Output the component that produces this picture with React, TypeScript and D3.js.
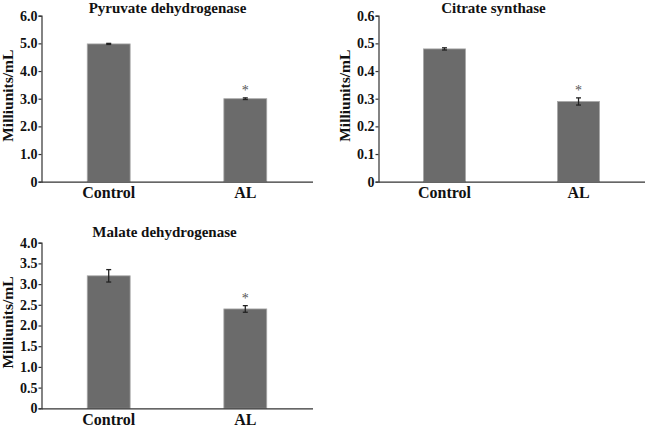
import { useEffect, useRef } from 'react'
import * as d3 from 'd3'

const categories = ['Control', 'AL']
const significant = [false, true]

const pdhMeans = [4.98, 3.0]
const pdhErrors = [0.02, 0.03]
const pdhTicks = [0, 1, 2, 3, 4, 5, 6]

const csMeans = [0.48, 0.29]
const csErrors = [0.004, 0.013]
const csTicks = [0, 0.1, 0.2, 0.3, 0.4, 0.5, 0.6]

const mdhMeans = [3.2, 2.4]
const mdhErrors = [0.15, 0.08]
const mdhTicks = [0, 0.5, 1, 1.5, 2, 2.5, 3, 3.5, 4]

const FONT = 'Liberation Serif, Times New Roman, serif'

interface Panel {
  title: string
  means: number[]
  errors: number[]
  ticks: number[]
  left: number
  top: number
  width: number
  height: number
  titleX: number
  titleY: number
}

const App = () => {
  const svgRef = useRef<SVGSVGElement>(null)

  useEffect(() => {
    if (!svgRef.current) return
    const root = d3.select(svgRef.current)
    root.selectAll('*').remove()

    const panels: Panel[] = [
      { title: 'Pyruvate dehydrogenase', means: pdhMeans, errors: pdhErrors, ticks: pdhTicks,
        left: 41.5, top: 15.7, width: 271, height: 166, titleX: 126, titleY: 12.5 },
      { title: 'Citrate synthase', means: csMeans, errors: csErrors, ticks: csTicks,
        left: 378.5, top: 15.7, width: 266, height: 166, titleX: 115, titleY: 12.5 },
      { title: 'Malate dehydrogenase', means: mdhMeans, errors: mdhErrors, ticks: mdhTicks,
        left: 41.5, top: 242.7, width: 271, height: 165.6, titleX: 123, titleY: 236.7 },
    ]

    panels.forEach(p => {
      const g = root.append('g').attr('transform', `translate(${p.left},${p.top})`)

      const x = d3.scaleBand<string>()
        .domain(categories)
        .range([0, p.width])
        .paddingInner(0.686)
        .paddingOuter(0.335)

      const y = d3.scaleLinear()
        .domain([0, d3.max(p.ticks)!])
        .range([p.height, 0])

      // bars
      g.selectAll('rect.bar')
        .data(p.means)
        .enter()
        .append('rect')
        .attr('class', 'bar')
        .attr('x', (_, i) => x(categories[i])!)
        .attr('y', d => y(d))
        .attr('width', x.bandwidth())
        .attr('height', d => p.height - y(d))
        .attr('fill', '#6b6b6b')
        .attr('stroke', '#a8a8a8')
        .attr('stroke-width', 0.8)

      // error bars
      p.means.forEach((m, i) => {
        const cx = x(categories[i])! + x.bandwidth() / 2
        const hi = y(m + p.errors[i])
        const lo = y(m - p.errors[i])
        const eb = g.append('g').attr('stroke', '#222').attr('stroke-width', 1.3)
        eb.append('line').attr('x1', cx).attr('x2', cx).attr('y1', hi).attr('y2', lo)
        eb.append('line').attr('x1', cx - 2.5).attr('x2', cx + 2.5).attr('y1', hi).attr('y2', hi)
        eb.append('line').attr('x1', cx - 2.5).attr('x2', cx + 2.5).attr('y1', lo).attr('y2', lo)

        if (significant[i]) {
          g.append('text')
            .attr('x', cx)
            .attr('y', hi - 3)
            .attr('text-anchor', 'middle')
            .attr('font-family', FONT)
            .attr('font-size', 14)
            .attr('fill', '#555')
            .text('*')
        }
      })

      // y axis
      const yAxis = g.append('g')
        .call(d3.axisLeft(y)
          .tickValues(p.ticks)
          .tickSize(3)
          .tickSizeOuter(3)
          .tickPadding(1)
          .tickFormat(d => (+d === 0 ? '0' : (+d).toFixed(1))))
      yAxis.attr('font-family', FONT).attr('font-size', 14).attr('font-weight', 'bold')
      yAxis.select('.domain').attr('stroke', '#333').attr('stroke-width', 1.2)
      yAxis.selectAll('.tick line').attr('stroke', '#333').attr('stroke-width', 1.2)
      yAxis.selectAll('.tick text').attr('fill', '#111')

      // x axis
      const xAxis = g.append('g')
        .attr('transform', `translate(0,${p.height})`)
        .call(d3.axisBottom(x).tickSize(0).tickSizeOuter(0).tickPadding(5))
      xAxis.attr('font-family', FONT).attr('font-size', 16).attr('font-weight', 'bold')
      xAxis.select('.domain').attr('stroke', '#333').attr('stroke-width', 1.2)
      xAxis.selectAll('.tick text').attr('dy', '0.71em').attr('fill', '#111')

      // y label
      g.append('text')
        .attr('transform', `translate(-29,${p.height / 2 - 3}) rotate(-90)`)
        .attr('text-anchor', 'middle')
        .attr('font-family', FONT)
        .attr('font-size', 15.5)
        .attr('font-weight', 'bold')
        .attr('fill', '#111')
        .text('Milliunits/mL')

      // title
      g.append('text')
        .attr('x', p.titleX)
        .attr('y', p.titleY - p.top)
        .attr('text-anchor', 'middle')
        .attr('font-family', FONT)
        .attr('font-size', 15)
        .attr('font-weight', 'bold')
        .attr('fill', '#111')
        .text(p.title)
    })
  }, [])

  return (
    <svg
      ref={svgRef}
      width={650}
      height={427}
      style={{ position: 'absolute', left: 0, top: 0, background: '#fff' }}
    />
  )
}

export default App
